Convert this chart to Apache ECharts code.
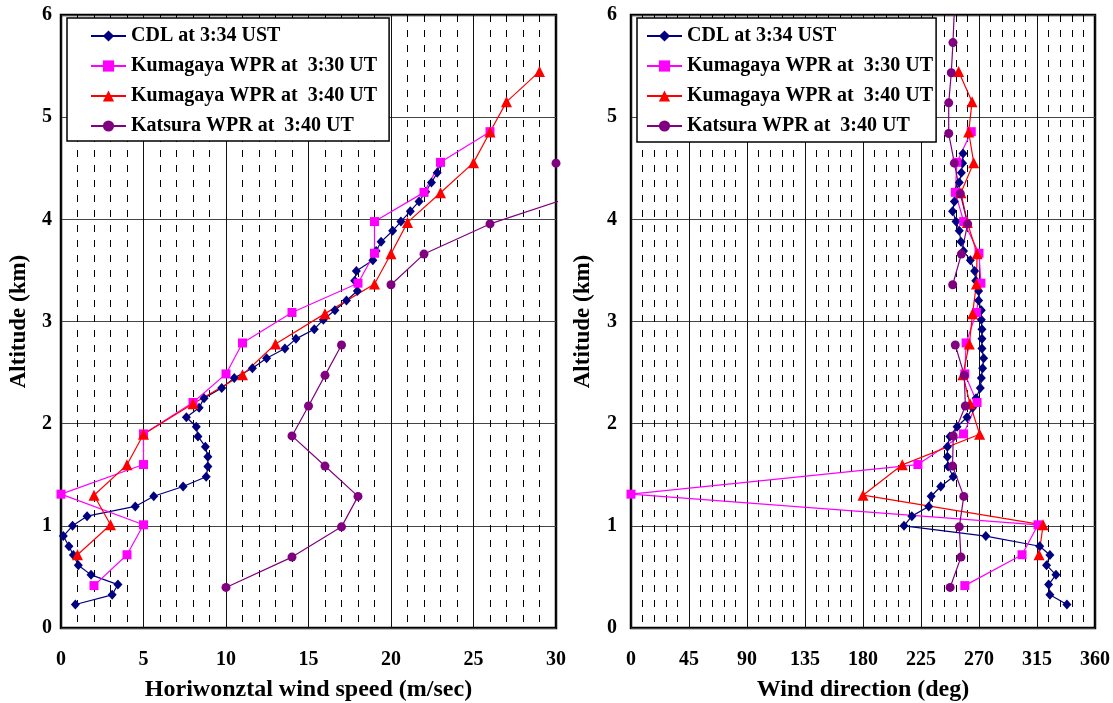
<!DOCTYPE html>
<html>
<head>
<meta charset="utf-8">
<script src="https://cdn.jsdelivr.net/npm/echarts@6/dist/echarts.min.js"></script>
<style>
  html, body { margin: 0; padding: 0; background: #fff; }
  #chart { width: 1113px; height: 703px; }
</style>
</head>
<body>
<div id="chart"></div>
<script>
// CDL at 3:34 UST
const cdlAlt = [0.23, 0.325, 0.425, 0.52, 0.615, 0.715, 0.80, 0.90, 1.00, 1.095,
  1.19, 1.29, 1.385, 1.48, 1.58, 1.675, 1.775, 1.875, 1.97, 2.063,
  2.155, 2.25, 2.35, 2.448, 2.543, 2.64, 2.735, 2.83, 2.925, 3.018,
  3.11, 3.205, 3.298, 3.40, 3.495, 3.60, 3.69, 3.78, 3.888, 3.978,
  4.08, 4.175, 4.27, 4.36, 4.455, 4.55, 4.645]
const cdlSpeed = [0.87, 3.1, 3.45, 1.82, 1.05, 0.75, 0.48, 0.14, 0.7, 1.58,
  4.5, 5.62, 7.4, 8.8, 8.9, 8.9, 8.75, 8.3, 8.2, 7.6,
  8.37, 8.67, 9.74, 10.5, 11.6, 12.46, 13.57, 14.24, 15.35, 15.9,
  16.6, 17.3, 17.96, 17.8, 17.9, 18.9, 19.1, 19.4, 20.1, 20.6,
  21.17, 21.7, 22.1, 22.45, 22.8, 23.0, null]
const cdlDir = [338.2, 325, 324, 329.7, 322.4, 325, 317.1, 275.3, 211.8, 217.9,
  231, 232.9, 240.3, 250, 246, 245.5, 245.5, 247.4, 253, 260.7,
  265, 267.7, 271, 271.8, 272.8, 273.6, 272.3, 272.3, 272.3, 271.8,
  271.8, 269.7, 269.7, 267.5, 266.6, 263.3, 258, 256, 254.7, 252.2,
  249.5, 250.9, 252, 254.7, 256.3, 257.3, 257.6]

// Kumagaya WPR at 3:30 UT
const kum330Alt = [0.415, 0.717, 1.01, 1.31, 1.60, 1.90, 2.207, 2.487, 2.79, 3.088, 3.375, 3.668, 3.978, 4.264, 4.558, 4.858]
const kum330Speed = [2, 4, 5, 0, 5, 5, 8, 10, 11, 14, 18, 19, 19, 22, 23, 26]
const kum330Dir = [259, 303.4, 315.8, 0, 222.6, 258, 268.5, 259, 260, 268, 271.5, 270, 258.1, 251.6, 252.9, 264]

// Kumagaya WPR at 3:40 UT
const kum340Alt = [0.717, 1.01, 1.30, 1.597, 1.897, 2.195, 2.478, 2.78, 3.077, 3.367, 3.663, 3.97, 4.26, 4.555, 4.855, 5.15, 5.448]
const kum340Speed = [1, 3, 2, 4, 5, 8, 11, 13, 16, 19, 20, 21, 23, 25, 26, 27, 29]
const kum340Dir = [316.6, 319.7, 180, 210.5, 270.5, 263, 257.5, 262.5, 265, 268, 268.5, 261, 256, 265.9, 262, 264.6, 254.2]

// Katsura WPR at 3:40 UT
const katsuraAlt = [0.397, 0.694, 0.99, 1.288, 1.585, 1.88, 2.173, 2.473, 2.77, 3.065, 3.36, 3.66, 3.955, 4.25, 4.55, 4.84, 5.14, 5.435, 5.73, 6.03]
const katsuraSpeed = [10, 14, 17, 18, 16, 14, 15, 16, 17, null, 20, 22, 26, 31.5, 30, null, null, null, null, null]
const katsuraDir = [247.6, 256, 254.7, 258.2, 249.5, 250, 259.4, 258.6, 251.6, null, 249.6, 256.3, 261.2, 255.5, 250.9, 246.5, 246.5, 248.5, 249.8, 250.8]

const speedTicks = [0, 30, 5]
const dirTicks = [0, 360, 45]
const altTicks = [0, 6, 1]

const names = ['CDL at 3:34 UST', 'Kumagaya WPR at  3:30 UT', 'Kumagaya WPR at  3:40 UT', 'Katsura WPR at  3:40 UT']
const colors = ['#000080', '#ff00ff', '#ff0000', '#800080']
const symbols = ['diamond', 'rect', 'triangle', 'circle']
const symbolSizes = [[9, 10], 9, 11, 9]

const FONT = 'Liberation Serif'

function pairs(xs, alts) {
  return alts.map((a, i) => (xs[i] == null ? ['-', a] : [xs[i], a]))
}

function xAxisFor(grid, ticks, name) {
  return {
    gridIndex: grid,
    type: 'value',
    min: ticks[0],
    max: ticks[1],
    interval: ticks[2],
    name: name,
    nameLocation: 'middle',
    nameGap: 50,
    nameTextStyle: { fontFamily: FONT, fontWeight: 'bold', fontSize: 24, color: '#000' },
    axisLine: { show: false },
    axisTick: { show: false },
    axisLabel: { fontFamily: FONT, fontWeight: 'bold', fontSize: 20, color: '#000', margin: 22 },
    splitLine: { show: true, lineStyle: { color: '#111', width: 1 } },
    minorTick: { show: false, splitNumber: 5 },
    minorSplitLine: { show: true, lineStyle: { color: '#000', width: 1, type: [7, 8] } }
  }
}

function yAxisFor(grid, labelMargin, nameGap) {
  return {
    gridIndex: grid,
    type: 'value',
    min: altTicks[0],
    max: altTicks[1],
    interval: altTicks[2],
    name: 'Altitude (km)',
    nameLocation: 'middle',
    nameGap: nameGap,
    nameTextStyle: { fontFamily: FONT, fontWeight: 'bold', fontSize: 23, color: '#000' },
    axisLine: { show: false },
    axisTick: { show: false },
    axisLabel: { fontFamily: FONT, fontWeight: 'bold', fontSize: 20, color: '#000', margin: labelMargin },
    splitLine: { show: true, lineStyle: { color: '#444', width: 1 } }
  }
}

function legendFor(left, padding) {
  return {
    left: left,
    top: 18,
    orient: 'vertical',
    itemWidth: 35,
    itemHeight: 14,
    itemGap: 10,
    padding: padding,
    backgroundColor: '#fff',
    borderColor: '#000',
    borderWidth: 1.5,
    borderRadius: 0,
    selectedMode: false,
    textStyle: { fontFamily: FONT, fontWeight: 'bold', fontSize: 20, color: '#000', lineHeight: 20 },
    data: names
  }
}

function lineSeries(i, grid, data) {
  return {
    name: names[i],
    type: 'line',
    xAxisIndex: grid,
    yAxisIndex: grid,
    data: data,
    symbol: symbols[i],
    symbolSize: symbolSizes[i],
    showAllSymbol: true,
    clip: true,
    lineStyle: { color: colors[i], width: 1.2 },
    itemStyle: { color: colors[i] },
    emphasis: { disabled: true }
  }
}

const chart = echarts.init(document.getElementById('chart'))

chart.setOption({
  animation: false,
  backgroundColor: '#fff',
  grid: [
    { left: 61, top: 15, width: 495, height: 613, outerBoundsMode: 'none', show: true, borderColor: '#000', borderWidth: 2.5 },
    { left: 631, top: 15, width: 464, height: 613, outerBoundsMode: 'none', show: true, borderColor: '#000', borderWidth: 2.5 }
  ],
  xAxis: [
    xAxisFor(0, speedTicks, 'Horiwonztal wind speed (m/sec)'),
    xAxisFor(1, dirTicks, 'Wind direction (deg)')
  ],
  yAxis: [
    yAxisFor(0, 9, 30),
    yAxisFor(1, 14, 36)
  ],
  legend: [
    legendFor(67, [8, 12, 5, 23]),
    legendFor(637, [8, 3, 6, 9])
  ],
  series: [
    lineSeries(0, 0, pairs(cdlSpeed, cdlAlt)),
    lineSeries(1, 0, pairs(kum330Speed, kum330Alt)),
    lineSeries(2, 0, pairs(kum340Speed, kum340Alt)),
    lineSeries(3, 0, pairs(katsuraSpeed, katsuraAlt)),
    lineSeries(0, 1, pairs(cdlDir, cdlAlt)),
    lineSeries(1, 1, pairs(kum330Dir, kum330Alt)),
    lineSeries(2, 1, pairs(kum340Dir, kum340Alt)),
    lineSeries(3, 1, pairs(katsuraDir, katsuraAlt))
  ]
})
</script>
</body>
</html>
